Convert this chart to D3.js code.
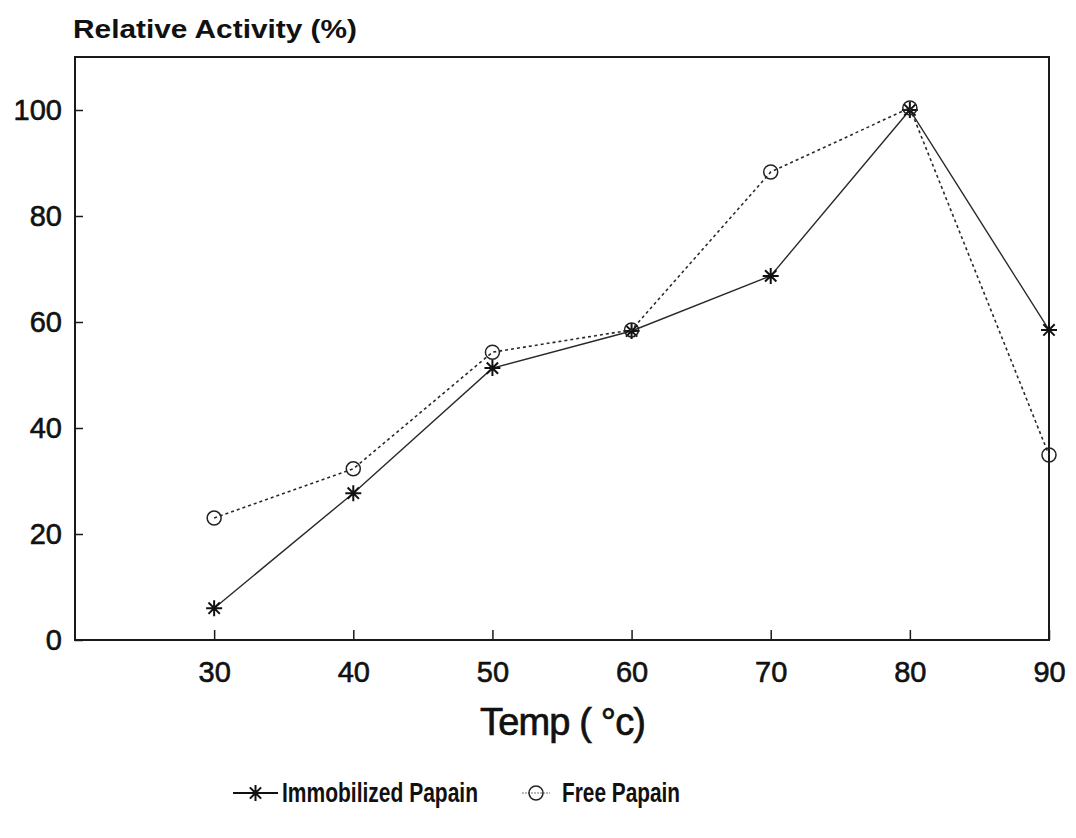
<!DOCTYPE html>
<html>
<head>
<meta charset="utf-8">
<script src="https://cdn.jsdelivr.net/npm/d3@7"></script>
<style>
  body { margin: 0; background: #fff; }
  svg { display: block; font-family: "Liberation Sans", Arial, sans-serif; }
</style>
</head>
<body>
<main></main>
<script>
// Constants
const WIDTH = 1076;
const HEIGHT = 838;
const LEFT = 75, RIGHT = 1049, TOP = 57, BOTTOM = 640;

// Data
const TEMPS = [30, 40, 50, 60, 70, 80, 90];
const IMMOBILIZED = [6, 27.7, 51.3, 58.3, 68.7, 100, 58.5];
const FREE = [23, 32.3, 54.3, 58.5, 88.3, 100.4, 34.9];
const Y_TICKS = [0, 20, 40, 60, 80, 100];
const X_TICKS = [30, 40, 50, 60, 70, 80, 90];
const SERIES_NAMES = ['Immobilized Papain', 'Free Papain'];

const series = [
  { name: SERIES_NAMES[0], values: IMMOBILIZED, marker: 'star', dash: null, width: 1.4 },
  { name: SERIES_NAMES[1], values: FREE, marker: 'circle', dash: '3,3', width: 1.6 },
];

const xScale = d3.scaleLinear([20, 90], [LEFT, RIGHT]);
const yScale = d3.scaleLinear([0, 110], [BOTTOM, TOP]);

const svg = d3.select('main')
  .append('svg')
  .attr('width', WIDTH)
  .attr('height', HEIGHT);

// Frame
svg.append('rect')
  .attr('x', LEFT).attr('y', TOP)
  .attr('width', RIGHT - LEFT).attr('height', BOTTOM - TOP)
  .attr('fill', 'none').attr('stroke', '#1a1a1a').attr('stroke-width', 2);

// Axes
const yAxis = d3.axisLeft(yScale).tickValues(Y_TICKS).tickSize(-8).tickPadding(13);
const xAxis = d3.axisBottom(xScale).tickValues(X_TICKS).tickSize(-10).tickPadding(21);

const gy = svg.append('g').attr('transform', `translate(${LEFT},0)`).call(yAxis);
const gx = svg.append('g').attr('transform', `translate(0,${BOTTOM})`).call(xAxis);
[gx, gy].forEach(g => {
  g.select('.domain').remove();
  g.selectAll('line').attr('stroke', '#1a1a1a').attr('stroke-width', 1.5);
  g.selectAll('text').attr('fill', '#111').attr('font-size', 29)
    .attr('stroke', '#111').attr('stroke-width', 0.6)
    .attr('font-family', '"Liberation Sans", Arial, sans-serif');
});

// Titles
svg.append('text')
  .attr('x', 73).attr('y', 38)
  .attr('font-size', 26).attr('font-weight', 'bold').attr('fill', '#111')
  .attr('textLength', 284).attr('lengthAdjust', 'spacingAndGlyphs')
  .text('Relative Activity (%)');

svg.append('text')
  .attr('x', 563).attr('y', 735)
  .attr('text-anchor', 'middle')
  .attr('font-size', 38).attr('fill', '#111')
  .attr('stroke', '#111').attr('stroke-width', 0.7)
  .attr('textLength', 166).attr('lengthAdjust', 'spacing')
  .text('Temp ( °c)');

// Markers
function starPath(r) {
  const p = d3.path();
  for (let a = 0; a < 4; a++) {
    const t = a * Math.PI / 4;
    p.moveTo(-r * Math.cos(t), -r * Math.sin(t));
    p.lineTo(r * Math.cos(t), r * Math.sin(t));
  }
  return p.toString();
}

function drawMarker(g, type) {
  if (type === 'star') {
    g.append('path').attr('d', starPath(8))
      .attr('stroke', '#111').attr('stroke-width', 2).attr('fill', 'none');
  } else {
    g.append('circle').attr('r', 7)
      .attr('stroke', '#222').attr('stroke-width', 1.5).attr('fill', 'none');
  }
}

const line = d3.line()
  .x(d => xScale(d[0]))
  .y(d => yScale(d[1]));

series.forEach(s => {
  const pts = TEMPS.map((t, i) => [t, s.values[i]]);
  svg.append('path')
    .datum(pts)
    .attr('d', line)
    .attr('fill', 'none')
    .attr('stroke', '#2a2a2a')
    .attr('stroke-width', s.width)
    .attr('stroke-dasharray', s.dash);
  pts.forEach(p => {
    const g = svg.append('g').attr('transform', `translate(${xScale(p[0])},${yScale(p[1])})`);
    drawMarker(g, s.marker);
  });
});

// Legend
const legendItems = [
  { s: series[0], x0: 233, x1: 278, tx: 282, tl: 196 },
  { s: series[1], x0: 522, x1: 550, tx: 562, tl: 118 },
];
legendItems.forEach(({ s, x0, x1, tx, tl }) => {
  const ly = 793;
  svg.append('line')
    .attr('x1', x0).attr('x2', x1).attr('y1', ly).attr('y2', ly)
    .attr('stroke', s.marker === 'star' ? '#111' : '#777')
    .attr('stroke-width', s.marker === 'star' ? 2 : 1.2)
    .attr('stroke-dasharray', s.marker === 'star' ? null : '2,1');
  const g = svg.append('g').attr('transform', `translate(${(x0 + x1) / 2},${ly})`);
  drawMarker(g, s.marker);
  svg.append('text')
    .attr('x', tx).attr('y', 802)
    .attr('font-size', 27).attr('font-weight', 'bold').attr('fill', '#111')
    .attr('textLength', tl).attr('lengthAdjust', 'spacingAndGlyphs')
    .text(s.name);
});
</script>
</body>
</html>
